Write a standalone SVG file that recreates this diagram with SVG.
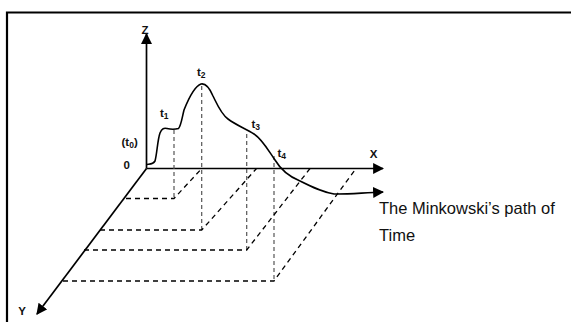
<svg xmlns="http://www.w3.org/2000/svg" width="571" height="322" viewBox="0 0 571 322">
<defs>
<marker id="ah" viewBox="0 0 10 10" refX="9" refY="5" markerWidth="11" markerHeight="11" markerUnits="userSpaceOnUse" orient="auto">
<path d="M0,0 L10,5 L0,10 Z" fill="#000"/>
</marker>
<style>
.frame{fill:none;stroke:#000;stroke-width:2.2}
.axis{fill:none;stroke:#000;stroke-width:1.7}
.curve{fill:none;stroke:#000;stroke-width:1.6;stroke-linejoin:round}
.dash{fill:none;stroke:#000;stroke-width:1.3;stroke-dasharray:5 4}
.vdash{fill:none;stroke:#555;stroke-width:1.2;stroke-dasharray:4 3}
.lbl{font-family:"Liberation Sans",Arial,sans-serif;font-size:11.5px;font-weight:bold;fill:#111}
.big{font-family:"Liberation Sans",Arial,sans-serif;font-size:16.5px;fill:#111}
</style>
</defs>
<rect width="571" height="322" fill="#fff"/>
<path class="frame" d="M7,322 V12.5 H571"/>
<g id="connectors">
<line class="axis" x1="146.5" y1="168.5" x2="146.5" y2="34" marker-end="url(#ah)"/>
<line class="axis" x1="146.5" y1="168.5" x2="383" y2="168.5" marker-end="url(#ah)"/>
<line class="axis" x1="146.5" y1="168.5" x2="37" y2="314" marker-end="url(#ah)"/>
<path class="vdash" d="M174,130 V198.5"/>
<path class="vdash" d="M201.7,86 V230"/>
<path class="vdash" d="M246.7,134 V250"/>
<path class="vdash" d="M274,156 V281"/>
<path class="dash" d="M126,198.5 H174 L201.7,168.5"/>
<path class="dash" d="M100,230 H201.7 L256.5,168.5"/>
<path class="dash" d="M84,250 H246.7 L310,168.5"/>
<path class="dash" d="M63,281 H274 L356,168.5"/>
<path class="curve" marker-end="url(#ah)" d="M146.7,164.5 C150,164 153,164.5 155,161 C157,154 157.5,140 160,133 C162,128 164,128 167,128.5 C171,129.5 175,129.5 178.5,128.5 C181,126 182,118 184,110 C188,100 195,86 201,84 C206,83 210,89 213,96 C217,104 221,114 228,119 C236,125 246,129 254,134 C262,139 268,150 275,160 C281,170 290,177 300,181 C312,187 322,192 334,194 C345,194.5 360,193 383,192"/>
</g>
<g id="label-z"><text class="lbl" x="145" y="34" text-anchor="middle">Z</text></g>
<g id="label-x"><text class="lbl" x="373.5" y="158" text-anchor="middle">X</text></g>
<g id="label-y"><text class="lbl" x="22" y="314.5" text-anchor="middle">Y</text></g>
<g id="label-0"><text class="lbl" x="123.5" y="168.5">0</text></g>
<g id="label-t0"><text class="lbl" x="121.5" y="145.5">(t<tspan font-size="8.5" dy="2">0</tspan><tspan dy="-2">)</tspan></text></g>
<g id="label-t1"><text class="lbl" x="160" y="116.5">t<tspan font-size="8.5" dy="2">1</tspan></text></g>
<g id="label-t2"><text class="lbl" x="197" y="76">t<tspan font-size="8.5" dy="2">2</tspan></text></g>
<g id="label-t3"><text class="lbl" x="251.5" y="128">t<tspan font-size="8.5" dy="2">3</tspan></text></g>
<g id="label-t4"><text class="lbl" x="277.5" y="157">t<tspan font-size="8.5" dy="2">4</tspan></text></g>
<g id="label-path"><text class="big" x="379" y="213.5">The Minkowski’s path of</text><text class="big" x="379" y="240.5">Time</text></g>
</svg>
